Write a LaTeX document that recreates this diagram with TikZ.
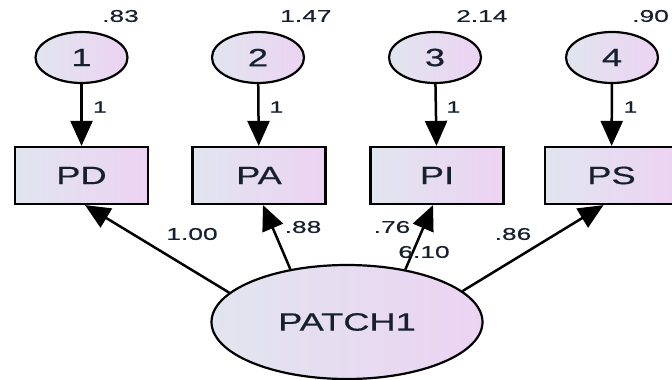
\documentclass[tikz,border=0pt]{standalone}
\usepackage{fontspec}
\setmainfont{Liberation Sans}
\newfontfamily\bigf[FakeStretch=1.45,FakeBold=0.4]{Liberation Sans}
\newfontfamily\numf[FakeStretch=1.55,FakeBold=0.4]{Liberation Sans}
\usetikzlibrary{shapes.geometric,arrows.meta}
\definecolor{lc}{HTML}{E1E5EF}
\definecolor{rc}{HTML}{ECD3F2}
\definecolor{txt}{HTML}{16202E}
\tikzset{
  errc/.style={ellipse,draw=black,line width=2.2pt,left color=lc,right color=rc,minimum width=92pt,minimum height=51pt,inner sep=0pt,font=\bigf\fontsize{25}{25}\selectfont,text=txt},
  obs/.style={rectangle,draw=black,line width=2.2pt,left color=lc,right color=rc,minimum width=133pt,minimum height=57pt,inner sep=0pt,font=\bigf\fontsize{25}{25}\selectfont,text=txt},
  lat/.style={ellipse,draw=black,line width=2.2pt,left color=lc,right color=rc,minimum width=271pt,minimum height=114pt,inner sep=0pt,font=\bigf\fontsize{25}{25}\selectfont,text=txt},
  num/.style={font=\numf\fontsize{17}{17}\selectfont,text=txt,inner sep=0pt},
  one/.style={font=\numf\fontsize{16}{16}\selectfont,text=txt,inner sep=0pt},
  arr/.style={line width=2.5pt,-{Triangle[length=25pt,width=22pt]}}
}
\begin{document}
\begin{tikzpicture}[x=1pt,y=-1pt]
\useasboundingbox (0,0) rectangle (672,380);
% error terms
\node[errc] (e1) at (81.5,57.5) {1};
\node[errc] (e2) at (258,57.5) {2};
\node[errc] (e3) at (435,57.5) {3};
\node[errc] (e4) at (612,57.5) {4};
% observed
\node[obs] (PD) at (81.5,175.5) {PD};
\node[obs] (PA) at (259,175.5) {PA};
\node[obs] (PI) at (437,175.5) {PI};
\node[obs] (PS) at (611.5,175.5) {PS};
% latent
\node[lat] (P) at (347,322) {PATCH1};
% variances
\node[num,anchor=west] (v1) at (102,16) {.83};
\node[num,anchor=west] (v2) at (280,16) {1.47};
\node[num,anchor=west] (v3) at (456,16) {2.14};
\node[num,anchor=west] (v4) at (632,16) {.90};
% error arrows
\draw[arr] (e1) -- (PD);
\draw[arr] (e2) -- (PA);
\draw[arr] (e3) -- (PI);
\draw[arr] (e4) -- (PS);
\node[one] (w1) at (100,107) {1};
\node[one] (w2) at (276.5,107) {1};
\node[one] (w3) at (453.5,107) {1};
\node[one] (w4) at (630.5,107) {1};
% loadings
\draw[arr] (P.166) -- ([xshift=3.5pt]PD.south);
\draw[arr] (P.137) -- ([xshift=4pt]PA.south);
\draw[arr] (P.42) -- ([xshift=-4pt]PI.south);
\draw[arr] (P.15) -- ([xshift=-8pt]PS.south);
\node[num] (l1) at (192,234) {1.00};
\node[num] (l2) at (303,227) {.88};
\node[num] (l3) at (392,227) {.76};
\node[num] (l4) at (424,252) {6.10};
\node[num] (l5) at (513,234) {.86};
\end{tikzpicture}
\end{document}
